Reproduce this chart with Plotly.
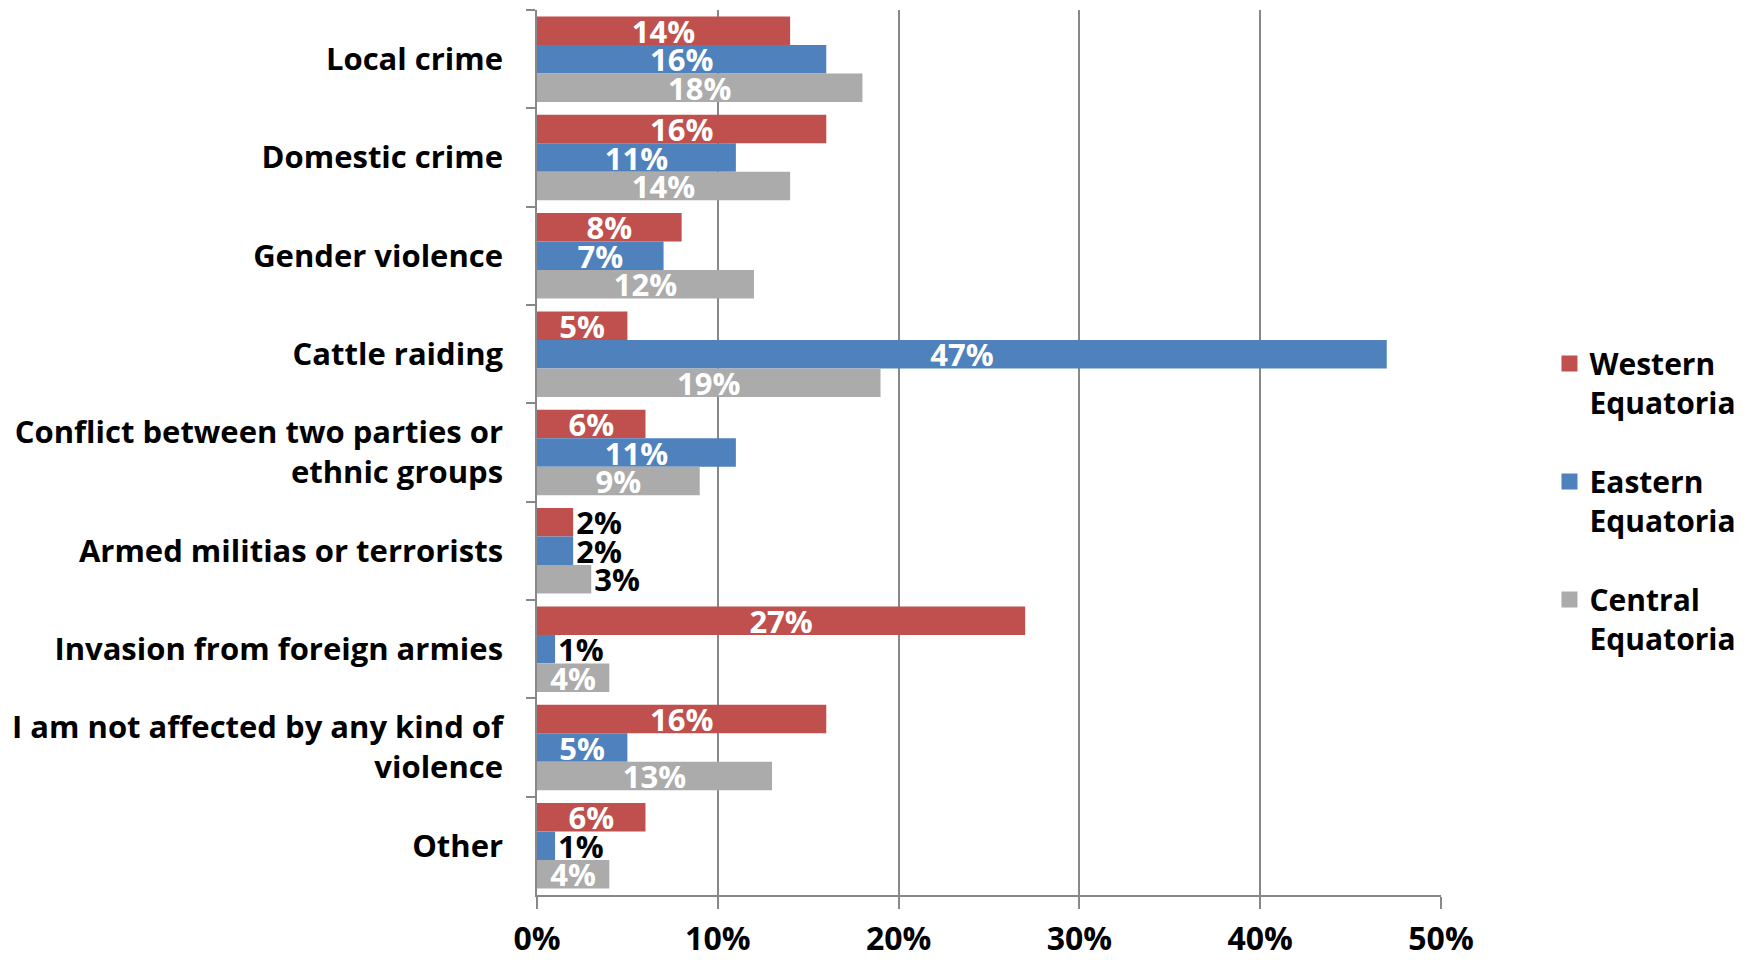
import plotly.graph_objects as go

# Categories, top to bottom
categories = [
    "Local crime",
    "Domestic crime",
    "Gender violence",
    "Cattle raiding",
    "Conflict between two parties or<br>ethnic groups",
    "Armed militias or terrorists",
    "Invasion from foreign armies",
    "I am not affected by any kind of<br>violence",
    "Other",
]

# Share of respondents (%) per state
western = [14, 16, 8, 5, 6, 2, 27, 16, 6]
eastern = [16, 11, 7, 47, 11, 2, 1, 5, 1]
central = [18, 14, 12, 19, 9, 3, 4, 13, 4]

series_names = ["Western<br>Equatoria", "Eastern<br>Equatoria", "Central<br>Equatoria"]
series_values = [western, eastern, central]
colors = ["#C0504D", "#4F81BD", "#ABABAB"]

FONT = "Open Sans"

fig = go.Figure()

for name, vals, col in zip(series_names, series_values, colors):
    x = [v / 100 for v in vals]
    # small bars get their label outside, in black
    positions = ["inside" if v >= 4 else "outside" for v in vals]
    fig.add_trace(go.Bar(
        y=categories,
        x=x,
        orientation="h",
        name=name,
        marker=dict(color=col, line=dict(width=0)),
        text=[f"{v}%" for v in vals],
        textposition=positions,
        insidetextanchor="middle",
        textangle=0,
        constraintext="none",
        insidetextfont=dict(family=FONT, size=31, color="white", weight="bold"),
        outsidetextfont=dict(family=FONT, size=31, color="black", weight="bold"),
        cliponaxis=False,
        showlegend=False,
    ))

# legend entries with bigger square swatches
for i, (name, col) in enumerate(zip(series_names, colors)):
    fig.add_trace(go.Scatter(
        x=[None], y=[None],
        mode="markers",
        marker=dict(symbol="square", size=20, color=col),
        name=name,
        legendgroup=f"g{i}",
        showlegend=True,
    ))

# page body has an 8px margin, so the figure is a bit smaller than the window
fig.update_layout(
    width=1744,
    height=952,
    barmode="group",
    bargap=0.13,
    bargroupgap=0,
    plot_bgcolor="white",
    paper_bgcolor="white",
    margin=dict(l=529, r=311, t=2, b=65),
    font=dict(family=FONT, color="black"),
    legend=dict(
        x=1.12,
        xanchor="left",
        y=0.63,
        yanchor="top",
        valign="top",
        font=dict(family=FONT, size=30, weight="bold"),
        tracegroupgap=37,
        itemsizing="trace",
        bgcolor="rgba(0,0,0,0)",
    ),
    xaxis=dict(
        range=[0, 0.5],
        dtick=0.1,
        tickformat=".0%",
        automargin=False,
        showgrid=True,
        gridcolor="#888888",
        gridwidth=1.5,
        showline=True,
        linecolor="#888888",
        linewidth=1.5,
        ticks="outside",
        ticklen=12,
        tickcolor="#888888",
        tickwidth=1.5,
        ticklabelstandoff=3,
        tickfont=dict(family=FONT, size=32, weight="bold"),
        zeroline=False,
    ),
    yaxis=dict(
        autorange="reversed",
        automargin=False,
        showline=True,
        linecolor="#888888",
        linewidth=1.5,
        ticks="outside",
        tickson="boundaries",
        ticklen=9,
        tickcolor="#888888",
        tickwidth=1.5,
        ticklabelstandoff=26,
        tickfont=dict(family=FONT, size=31, weight="bold"),
        showgrid=False,
    ),
)

fig.write_html("out.html")
